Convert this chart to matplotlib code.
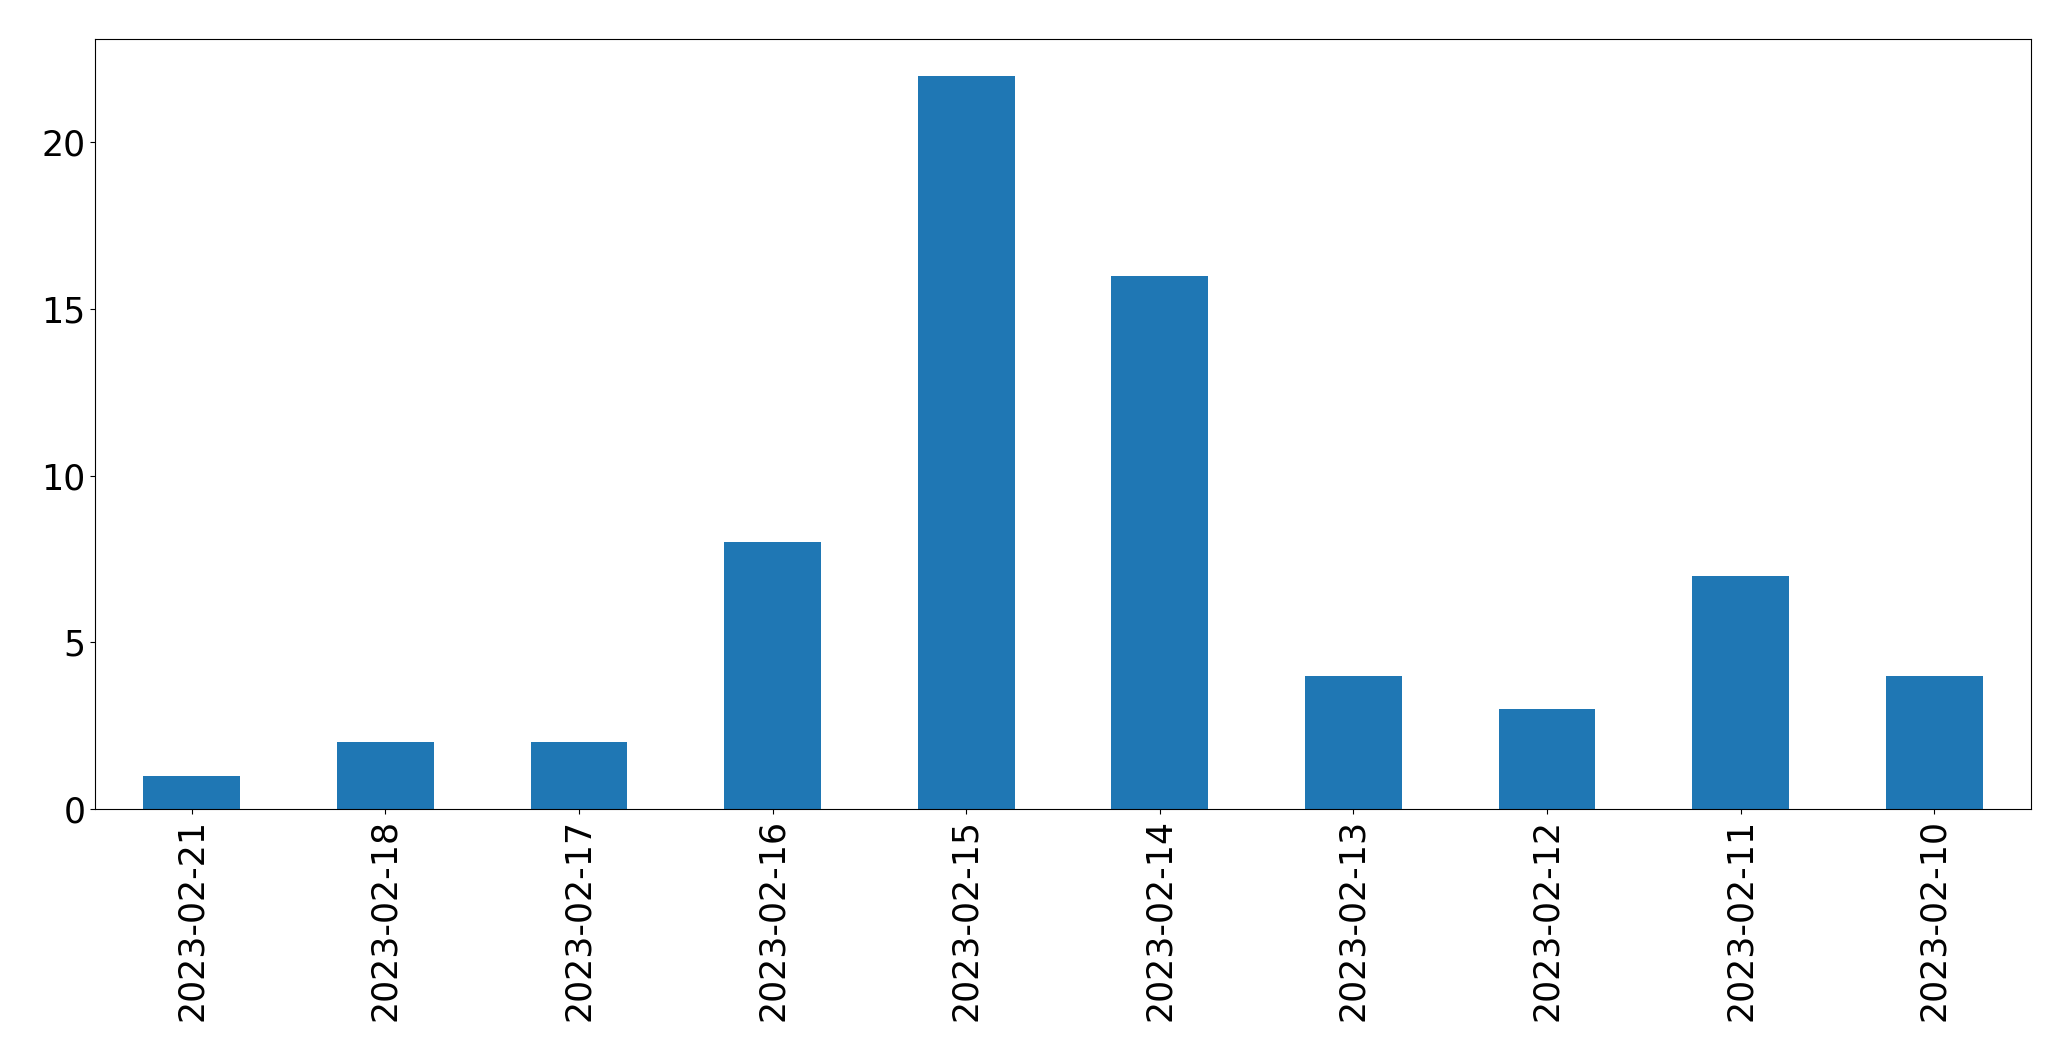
import matplotlib
matplotlib.use("Agg")
import matplotlib.pyplot as plt
import pandas as pd

dates = ["2023-02-21", "2023-02-18", "2023-02-17", "2023-02-16", "2023-02-15",
         "2023-02-14", "2023-02-13", "2023-02-12", "2023-02-11", "2023-02-10"]
counts = [1, 2, 2, 8, 22, 16, 4, 3, 7, 4]

fig = plt.figure(figsize=(20.71, 10.61), dpi=100)
ax = fig.add_axes([95 / 2071, 1 - 809 / 1061, (2031 - 95) / 2071, (809 - 39) / 1061])
s = pd.Series(counts, index=dates)
s.plot.bar(ax=ax, color="#1f77b4")
ax.tick_params(axis="both", labelsize=25)
fig.savefig("out.png", dpi=100)
